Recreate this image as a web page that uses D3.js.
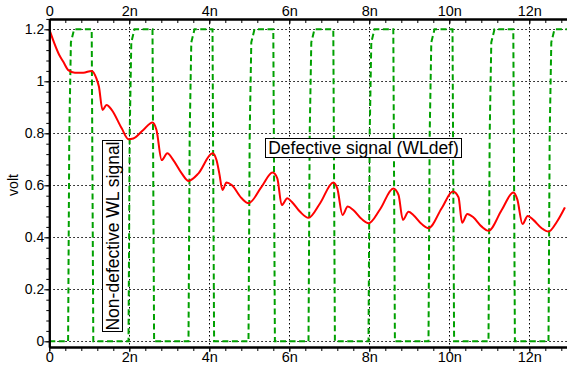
<!DOCTYPE html>
<html>
<head>
<meta charset="utf-8">
<script src="https://cdn.jsdelivr.net/npm/d3@7"></script>
<style>
  body { margin: 0; background: #fff; }
  svg { display: block; font-family: "Liberation Sans", Arial, Helvetica, sans-serif; }
</style>
</head>
<body>
<div id="chart"></div>
<script>
// time in ns, voltage in volt
const redT = [0,0.27,0.35,0.475,0.64,0.85,1.06,1.18,1.24,1.33,
  1.43,1.56,1.81,1.98,2.1,2.35,2.58,2.68,2.81,2.95,
  3.1,3.31,3.48,3.73,4.08,4.18,4.25,4.33,4.43,4.56,
  4.81,4.98,5.31,5.58,5.7,5.81,5.95,6.06,6.27,6.48,
  6.77,7.1,7.2,7.33,7.46,7.6,7.81,7.98,8.27,8.6,
  8.73,8.84,8.98,9.1,9.31,9.48,9.81,10.09,10.23,10.32,
  10.45,10.6,10.81,10.98,11.31,11.6,11.7,11.83,11.96,12.1,
  12.31,12.48,12.69,12.89];
const redV = [1.2,1.095,1.075,1.043,1.033,1.033,1.04,1.01,0.98,0.89,
  0.909,0.89,0.819,0.777,0.78,0.813,0.842,0.813,0.697,0.723,
  0.697,0.646,0.617,0.646,0.723,0.697,0.646,0.582,0.611,0.601,
  0.55,0.531,0.595,0.649,0.627,0.524,0.55,0.537,0.498,0.475,
  0.531,0.611,0.588,0.486,0.518,0.505,0.47,0.454,0.508,0.588,
  0.563,0.467,0.498,0.486,0.451,0.435,0.512,0.576,0.554,0.456,
  0.49,0.477,0.441,0.425,0.505,0.572,0.546,0.451,0.482,0.467,
  0.435,0.422,0.46,0.515];

const greenT = [0,0.47,0.5,0.54,0.62,1.06,1.1,
  1.98,2.01,2.05,2.13,2.58,2.62,
  3.48,3.51,3.55,3.63,4.08,4.12,
  4.98,5.01,5.05,5.13,5.6,5.64,
  6.48,6.51,6.55,6.63,7.1,7.14,
  7.98,8.01,8.05,8.13,8.6,8.64,
  9.48,9.51,9.55,9.63,10.08,10.12,
  10.98,11.01,11.05,11.13,11.6,11.64,
  12.48,12.51,12.55,12.63,12.94];
const greenV = [0,0,0.8,1.15,1.2,1.2,0,
  0,0.8,1.15,1.2,1.2,0,
  0,0.8,1.15,1.2,1.2,0,
  0,0.8,1.15,1.2,1.2,0,
  0,0.8,1.15,1.2,1.2,0,
  0,0.8,1.15,1.2,1.2,0,
  0,0.8,1.15,1.2,1.2,0,
  0,0.8,1.15,1.2,1.2,0,
  0,0.8,1.15,1.2,1.2];

const xTicks = [0, 2, 4, 6, 8, 10, 12];
const xTickLabels = ["0", "2n", "4n", "6n", "8n", "10n", "12n"];
const yTicks = [0, 0.2, 0.4, 0.6, 0.8, 1, 1.2];
const yTickLabels = ["0", "0.2", "0.4", "0.6", "0.8", "1", "1.2"];

const W = 567, H = 372;
const plotLeft = 49.3, plotTop = 19, plotBottom = 347;

const svg = d3.select("#chart").append("svg").attr("width", W).attr("height", H);

const x = d3.scaleLinear().domain([0, (W - plotLeft) / 40]).range([plotLeft, W]);
const y = d3.scaleLinear().domain([(341.3 - plotBottom) / 260, (341.3 - plotTop) / 260]).range([plotBottom, plotTop]);

const xMinor = d3.range(0, 13.01, 0.4).filter(d => x(d) <= W);
const yMinor = d3.range(0, 1.2401, 0.04);

// grid
const grid = svg.append("g").attr("stroke", "#000").attr("stroke-width", 1).attr("stroke-dasharray", "1.5,2.5");
grid.selectAll(".gx").data(xTicks.filter(d => d > 0)).enter().append("line")
  .attr("x1", d => Math.round(x(d)) + 0.5).attr("x2", d => Math.round(x(d)) + 0.5)
  .attr("y1", plotTop).attr("y2", plotBottom);
grid.selectAll(".gy").data(yTicks).enter().append("line")
  .attr("x1", plotLeft).attr("x2", W)
  .attr("y1", d => Math.round(y(d)) + 0.5).attr("y2", d => Math.round(y(d)) + 0.5);

// green non-defective WL signal
svg.append("path")
  .datum(greenT.map((t, i) => [t, greenV[i]]))
  .attr("d", d3.line().x(d => x(d[0])).y(d => y(d[1])))
  .attr("fill", "none").attr("stroke", "#00a000").attr("stroke-width", 2)
  .attr("stroke-dasharray", "6,3.5");

// red defective signal
svg.append("path")
  .datum(redT.map((t, i) => [t, redV[i]]))
  .attr("d", d3.line().x(d => x(d[0])).y(d => y(d[1])).curve(d3.curveMonotoneX))
  .attr("fill", "none").attr("stroke", "#ff0000").attr("stroke-width", 2);

// axes
function styleAxis(g, size) {
  g.select(".domain").attr("stroke-width", 2);
  g.selectAll("text").style("font-size", size).attr("fill", "#000");
}
svg.append("g").attr("transform", `translate(0,${plotTop})`)
  .call(d3.axisTop(x).tickValues(xMinor).tickSize(-4).tickFormat("").tickSizeOuter(0))
  .call(g => g.select(".domain").attr("stroke-width", 2));
svg.append("g").attr("transform", `translate(0,${plotTop})`)
  .call(d3.axisTop(x).tickValues(xTicks).tickSize(-5).tickSizeOuter(0).tickFormat((d, i) => xTickLabels[i]))
  .call(g => styleAxis(g, "14.5px"))
  .call(g => g.selectAll("text").attr("y", -3));

svg.append("g").attr("transform", `translate(0,${plotBottom})`)
  .call(d3.axisBottom(x).tickValues(xMinor).tickSize(4).tickFormat("").tickSizeOuter(0))
  .call(g => g.select(".domain").attr("stroke-width", 2));
svg.append("g").attr("transform", `translate(0,${plotBottom})`)
  .call(d3.axisBottom(x).tickValues(xTicks).tickSize(5).tickSizeOuter(0).tickFormat((d, i) => xTickLabels[i]))
  .call(g => styleAxis(g, "14.5px"))
  .call(g => g.selectAll("text").attr("y", 5));

svg.append("g").attr("transform", `translate(${plotLeft},0)`)
  .call(d3.axisLeft(y).tickValues(yMinor).tickSize(3).tickFormat("").tickSizeOuter(0))
  .call(g => g.select(".domain").attr("stroke-width", 2));
svg.append("g").attr("transform", `translate(${plotLeft},0)`)
  .call(d3.axisLeft(y).tickValues(yTicks).tickSize(5).tickSizeOuter(0).tickFormat((d, i) => yTickLabels[i]))
  .call(g => styleAxis(g, "14px"))
  .call(g => g.selectAll("text").attr("x", -5));

svg.append("text")
  .attr("transform", "translate(18,185) rotate(-90)")
  .attr("text-anchor", "middle").style("font-size", "14px").text("volt");

// annotations
const ann1 = svg.append("g");
ann1.append("rect").attr("x", 102.5).attr("y", 140.5).attr("width", 20).attr("height", 191)
  .attr("fill", "#fff").attr("stroke", "#000");
ann1.append("text").attr("transform", "translate(112.5,236) rotate(-90)")
  .attr("text-anchor", "middle").attr("dominant-baseline", "central")
  .style("font-size", "17.5px").text("Non-defective WL signal");

const ann2 = svg.append("g");
ann2.append("rect").attr("x", 265.5).attr("y", 138.5).attr("width", 196).attr("height", 19)
  .attr("fill", "#fff").attr("stroke", "#000");
ann2.append("text").attr("x", 363.5).attr("y", 148).attr("text-anchor", "middle")
  .attr("dominant-baseline", "central").style("font-size", "17.5px").text("Defective signal (WLdef)");
</script>
</body>
</html>
